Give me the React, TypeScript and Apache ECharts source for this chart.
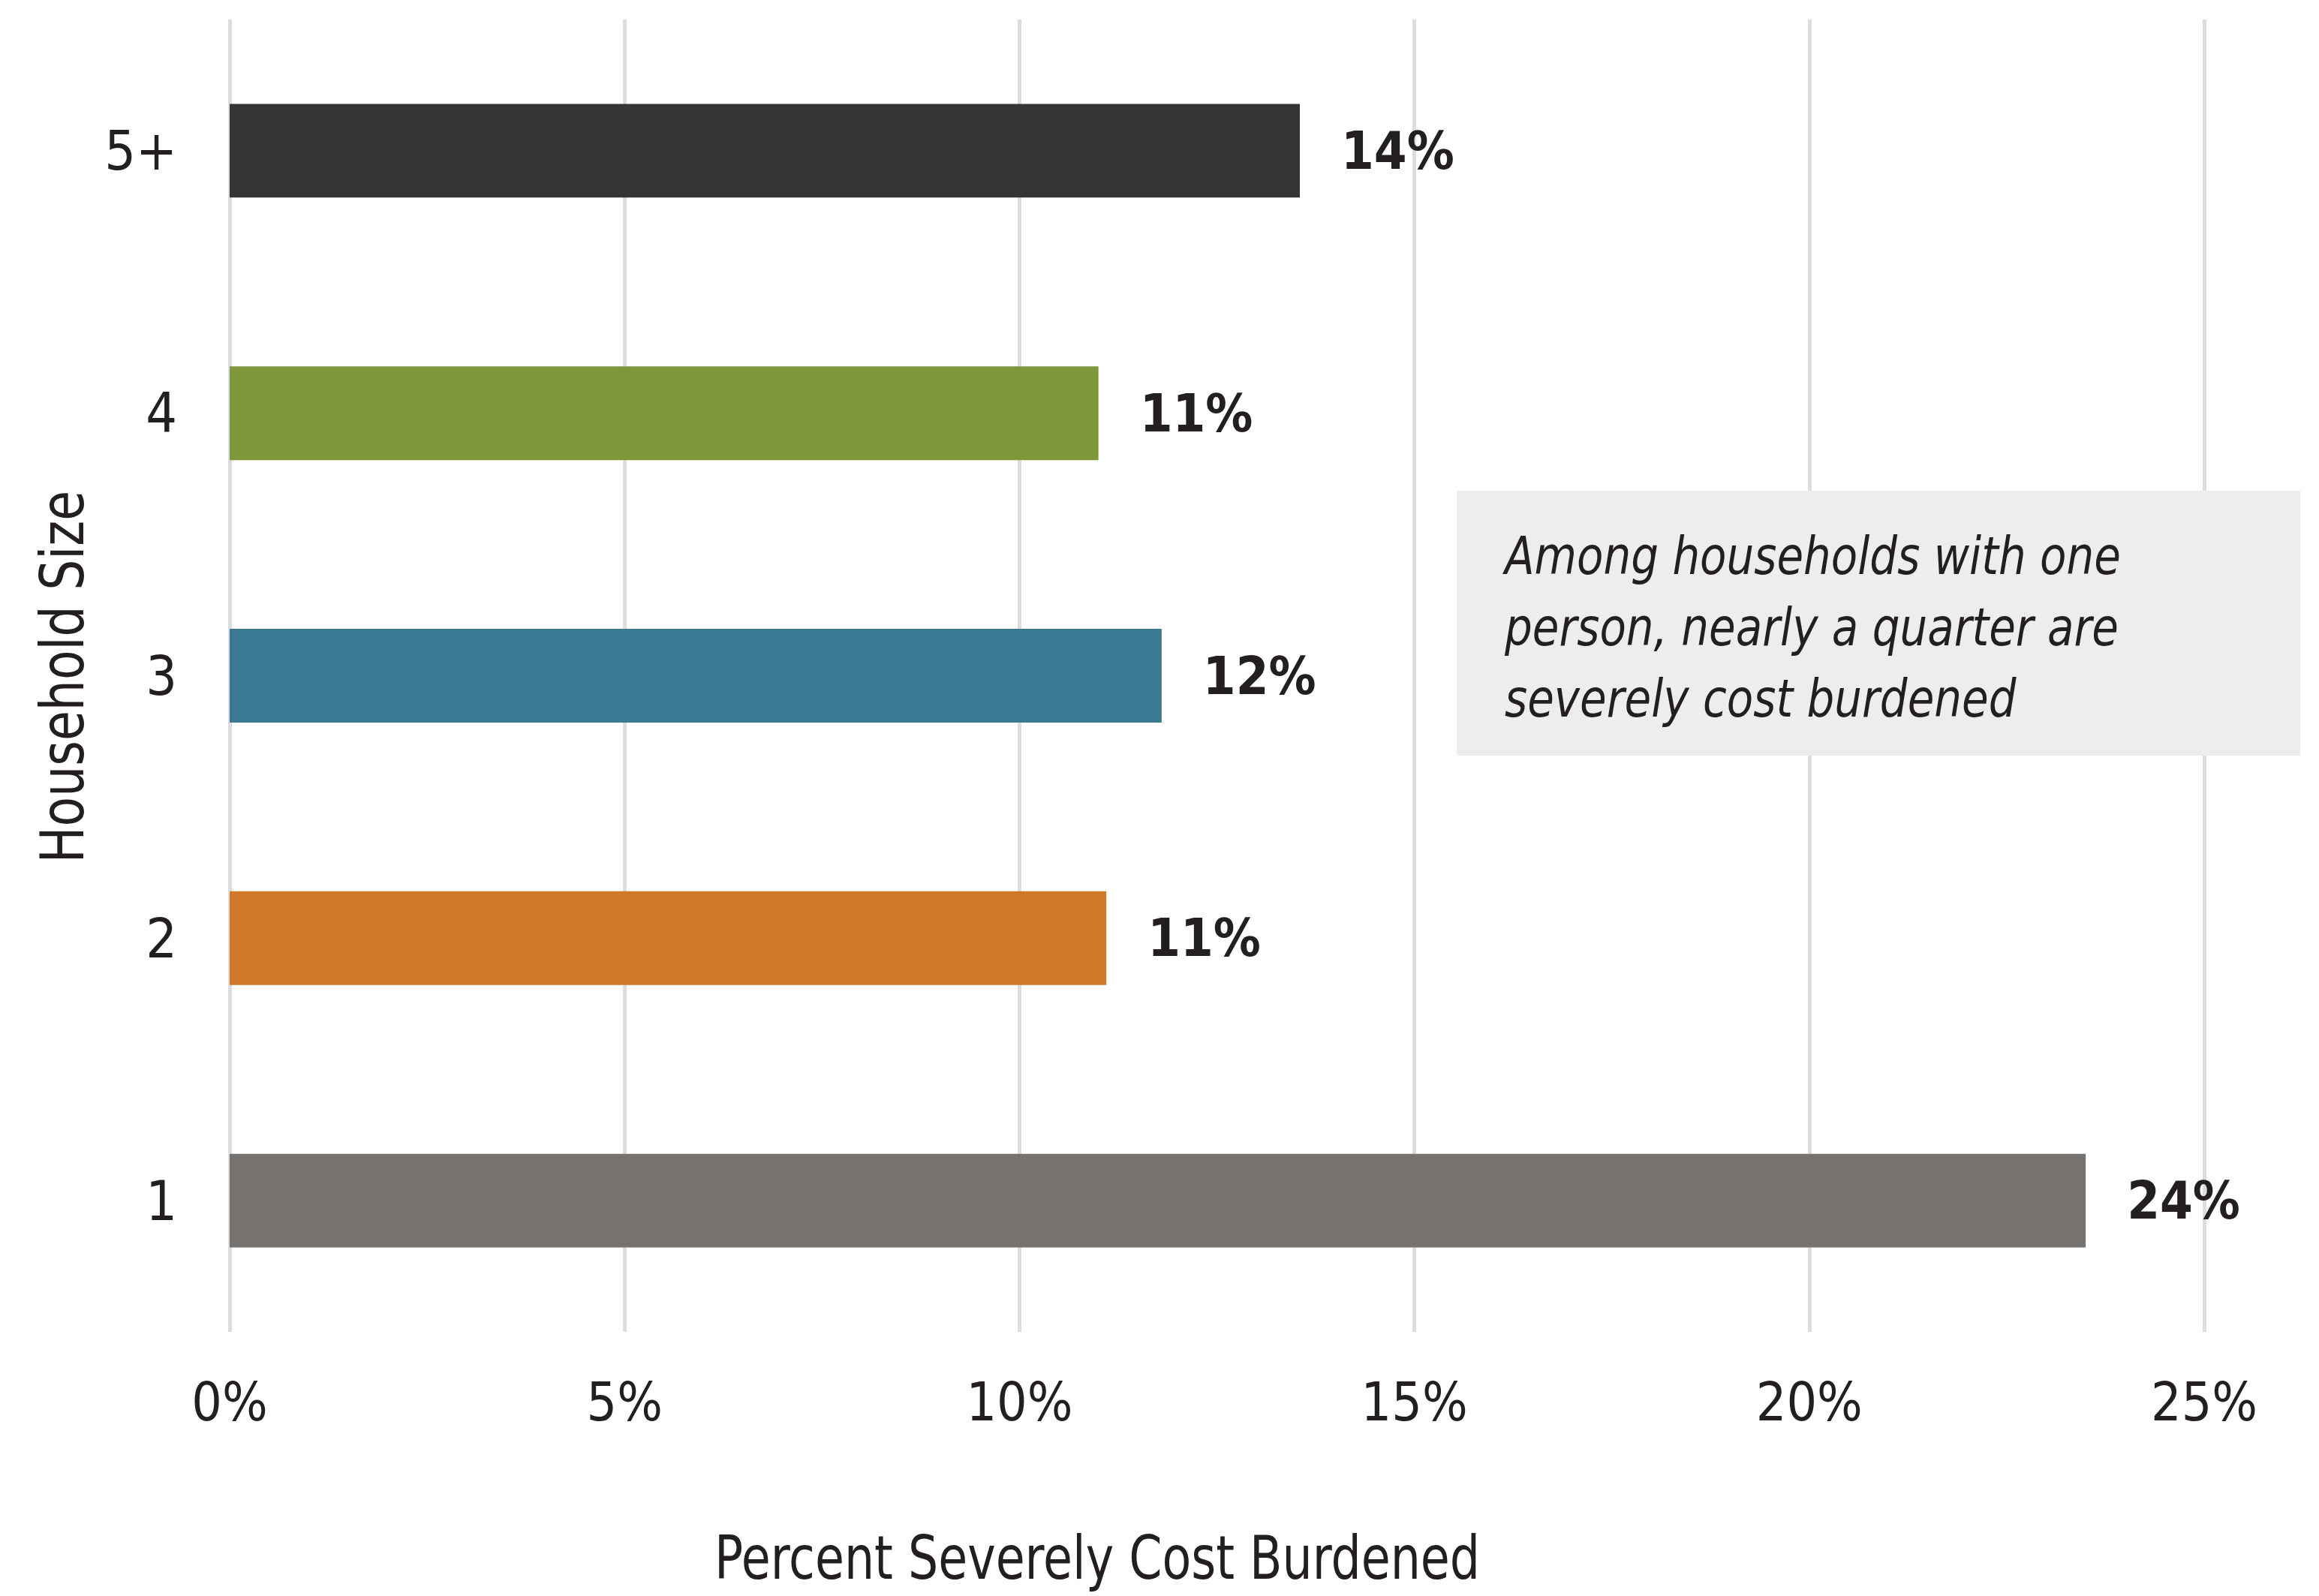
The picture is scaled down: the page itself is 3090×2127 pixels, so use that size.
import React, { useEffect, useRef } from "react";
import * as echarts from "echarts";

const categories = ["1", "2", "3", "4", "5+"];
const values = [23.5, 11.1, 11.8, 11.0, 13.55];
const valueLabels = ["24%", "11%", "12%", "11%", "14%"];
const barColors = ["#767270", "#D17828", "#3B7892", "#7F973B", "#363534"];
const xTicks = { min: 0, max: 25, interval: 5 };
const xTitle = "Percent Severely Cost Burdened";
const yTitle = "Household Size";
const note = "Among households with one\nperson, nearly a quarter are\nseverely cost burdened";

const FONT = '"Liberation Sans Narrow", "Arial Narrow", "DejaVu Sans Condensed", sans-serif';
const TEXT = "#231F20";

export default function App() {
  const ref = useRef<HTMLDivElement>(null);
  useEffect(() => {
    if (!ref.current) return;
    const chart = echarts.init(ref.current, null, { renderer: "svg" });
    chart.setOption({
      animation: false,
      backgroundColor: "#FFFFFF",
      grid: { left: 306, right: 153, top: 26, bottom: 352, containLabel: false },
      xAxis: {
        type: "value",
        min: xTicks.min,
        max: xTicks.max,
        interval: xTicks.interval,
        axisLine: { show: false },
        axisTick: { show: false },
        splitLine: { show: true, lineStyle: { color: "#DCDDDF", width: 5 } },
        axisLabel: {
          formatter: "{value}%",
          fontFamily: FONT,
          fontSize: 71,
          color: TEXT,
          margin: 58,
        },
      },
      yAxis: {
        type: "category",
        data: categories,
        axisLine: { show: false },
        axisTick: { show: false },
        splitLine: { show: false },
        axisLabel: {
          fontFamily: FONT,
          fontSize: 73,
          color: TEXT,
          margin: 70,
        },
      },
      series: [
        {
          type: "bar",
          barWidth: "35.7%",
          data: values.map((v, i) => ({ value: v, itemStyle: { color: barColors[i] } })),
          label: {
            show: true,
            position: "right",
            distance: 55,
            formatter: (p: any) => valueLabels[p.dataIndex],
            fontFamily: FONT,
            fontSize: 70,
            fontWeight: "bold",
            color: TEXT,
          },
        },
      ],
      graphic: [
        {
          type: "rect",
          z: 100,
          shape: { x: 1941, y: 654, width: 1124, height: 353 },
          style: { fill: "#EDEDED" },
        },
        {
          type: "text",
          z: 101,
          x: 2005,
          y: 694,
          scaleX: 0.92,
          style: {
            text: note,
            fontFamily: FONT,
            fontSize: 70,
            fontStyle: "italic",
            lineHeight: 95,
            fill: TEXT,
            align: "left",
            verticalAlign: "top",
          },
        },
        {
          type: "text",
          z: 101,
          x: 1462,
          y: 2076,
          scaleX: 0.88,
          style: {
            text: xTitle,
            fontFamily: FONT,
            fontSize: 80,
            lineHeight: 84,
            fill: TEXT,
            align: "center",
            verticalAlign: "middle",
          },
        },
        {
          type: "text",
          z: 101,
          x: 83,
          y: 902,
          rotation: Math.PI / 2,
          scaleX: 0.9,
          style: {
            text: yTitle,
            fontFamily: FONT,
            fontSize: 80,
            lineHeight: 84,
            fill: TEXT,
            align: "center",
            verticalAlign: "middle",
          },
        },
      ],
    });
    return () => chart.dispose();
  }, []);
  return (
    <div
      ref={ref}
      style={{ position: "fixed", left: 0, top: 0, width: 3090, height: 2127 }}
    />
  );
}
